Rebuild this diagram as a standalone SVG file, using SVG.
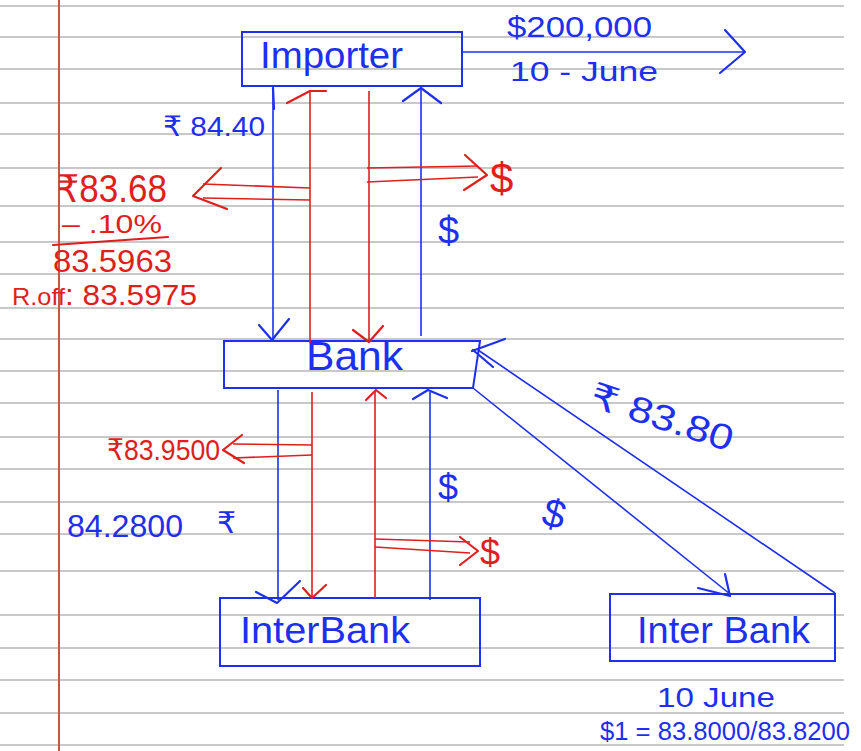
<svg xmlns="http://www.w3.org/2000/svg" width="861" height="751" viewBox="0 0 861 751">
<style>
.rule{stroke:#c8c8c8;stroke-width:2}
.margin{stroke:#c0584a;stroke-width:2}
.box{fill:none;stroke:#1e2ff0;stroke-width:2}
.b{stroke:#1e2ff0;fill:none;stroke-width:1.6}
.r{stroke:#e01e1e;fill:none;stroke-width:1.6}
.bh{stroke:#1e2ff0;fill:none;stroke-width:2.2;stroke-linecap:round;stroke-linejoin:round}
.rh{stroke:#e01e1e;fill:none;stroke-width:2.2;stroke-linecap:round;stroke-linejoin:round}
.tb{fill:#1e2ff0;font-family:"Liberation Sans","DejaVu Sans",sans-serif}
.tr{fill:#e01e1e;font-family:"Liberation Sans","DejaVu Sans",sans-serif}
</style>
<rect width="861" height="751" fill="#ffffff"/>
<g id="paper">
<line class="rule" x1="0" y1="6" x2="844" y2="6"/>
<line class="rule" x1="0" y1="37" x2="844" y2="37"/>
<line class="rule" x1="0" y1="69" x2="844" y2="69"/>
<line class="rule" x1="0" y1="103" x2="844" y2="103"/>
<line class="rule" x1="0" y1="134" x2="844" y2="134"/>
<line class="rule" x1="0" y1="168" x2="844" y2="168"/>
<line class="rule" x1="0" y1="206" x2="844" y2="206"/>
<line class="rule" x1="0" y1="242" x2="844" y2="242"/>
<line class="rule" x1="0" y1="274" x2="844" y2="274"/>
<line class="rule" x1="0" y1="308" x2="844" y2="308"/>
<line class="rule" x1="0" y1="339" x2="844" y2="339"/>
<line class="rule" x1="0" y1="371" x2="844" y2="371"/>
<line class="rule" x1="0" y1="403" x2="844" y2="403"/>
<line class="rule" x1="0" y1="437" x2="844" y2="437"/>
<line class="rule" x1="0" y1="469" x2="844" y2="469"/>
<line class="rule" x1="0" y1="502" x2="844" y2="502"/>
<line class="rule" x1="0" y1="534" x2="844" y2="534"/>
<line class="rule" x1="0" y1="571" x2="844" y2="571"/>
<line class="rule" x1="0" y1="615" x2="844" y2="615"/>
<line class="rule" x1="0" y1="648" x2="844" y2="648"/>
<line class="rule" x1="0" y1="680" x2="844" y2="680"/>
<line class="rule" x1="0" y1="713" x2="844" y2="713"/>
<line class="rule" x1="0" y1="745" x2="844" y2="745"/>
<line class="margin" x1="59" y1="0" x2="59" y2="751"/>
</g>

<g id="importer">
<rect class="box" x="242" y="32" width="220" height="54"/>
<text class="tb" x="260" y="68" font-size="37" textLength="143" lengthAdjust="spacingAndGlyphs">Importer</text>
</g>

<g id="bank">
<polygon class="box" points="224,341 480,341 473,388 224,388"/>
<text class="tb" x="306" y="370" font-size="40" textLength="97" lengthAdjust="spacingAndGlyphs">Bank</text>
</g>

<g id="interbank-left">
<rect class="box" x="220" y="598" width="260" height="68"/>
<text class="tb" x="240" y="643" font-size="36" textLength="170" lengthAdjust="spacingAndGlyphs">InterBank</text>
</g>

<g id="interbank-right">
<rect class="box" x="610" y="594" width="225" height="67" fill="#e3e5fa"/>
<text class="tb" x="637" y="643" font-size="36" textLength="173" lengthAdjust="spacingAndGlyphs">Inter Bank</text>
</g>

<g id="connectors">
<line class="b" x1="462" y1="52" x2="745" y2="52"/>
<polyline class="bh" points="725,30 745,52 720,73"/>
<line class="b" x1="273" y1="87" x2="273" y2="340"/>
<line class="bh" x1="273" y1="88" x2="274" y2="109" stroke-width="3.5"/>
<polyline class="bh" points="259,325 272,340 289,319"/>
<line class="r" x1="310" y1="91" x2="310" y2="343"/>
<polyline class="rh" points="287,103 310,91 326,91"/>
<line class="r" x1="369" y1="91" x2="369" y2="342"/>
<polyline class="rh" points="353,330 369,342 383,326"/>
<line class="b" x1="421" y1="88" x2="421" y2="336"/>
<polyline class="bh" points="403,101 421,88 441,103"/>
<line class="r" x1="310" y1="188" x2="203" y2="184"/>
<line class="r" x1="310" y1="200" x2="203" y2="198"/>
<polyline class="rh" points="221,168 193,196 227,209"/>
<line class="r" x1="367" y1="168" x2="478" y2="166"/>
<line class="r" x1="367" y1="182" x2="478" y2="177"/>
<polyline class="rh" points="465,155 487,175 464,190"/>
<line class="b" x1="278" y1="390" x2="278" y2="600"/>
<polyline class="bh" points="256,592 277,603 300,581"/>
<line class="r" x1="312" y1="392" x2="312" y2="598"/>
<polyline class="rh" points="303,588 312,598 326,585"/>
<line class="r" x1="375" y1="598" x2="375" y2="392"/>
<polyline class="rh" points="366,400 376,390 386,398"/>
<line class="b" x1="430" y1="600" x2="430" y2="392"/>
<polyline class="bh" points="413,399 428,390 447,398"/>
<line class="r" x1="312" y1="445" x2="233" y2="444"/>
<line class="r" x1="312" y1="455" x2="233" y2="458"/>
<polyline class="rh" points="242,435 223,450 244,463"/>
<line class="r" x1="375" y1="539" x2="470" y2="542"/>
<line class="r" x1="375" y1="547" x2="470" y2="553"/>
<polyline class="rh" points="460,537 478,551 460,565"/>
<line class="b" x1="835" y1="593" x2="478" y2="350"/>
<polyline class="bh" points="505,339 472,351"/>
<polyline class="bh" points="473,350 493,367"/>
<line class="b" x1="473" y1="388" x2="730" y2="594"/>
<polyline class="bh" points="698,588 730,596 725,574"/>
</g>

<g id="labels">
<text class="tb" x="507" y="37" font-size="30" textLength="145" lengthAdjust="spacingAndGlyphs">$200,000</text>
<text class="tb" x="510" y="81" font-size="28" textLength="148" lengthAdjust="spacingAndGlyphs">10 - June</text>
<text class="tb" x="163" y="136" font-size="28" textLength="102" lengthAdjust="spacingAndGlyphs">₹ 84.40</text>
<text class="tr" x="57" y="202" font-size="38" textLength="110" lengthAdjust="spacingAndGlyphs">₹83.68</text>
<text class="tr" x="62" y="233" font-size="26" textLength="100" lengthAdjust="spacingAndGlyphs">– .10%</text>
<line class="rh" x1="53" y1="245" x2="168" y2="237"/>
<text class="tr" x="53" y="272" font-size="32" textLength="119" lengthAdjust="spacingAndGlyphs">83.5963</text>
<text class="tr" x="12" y="305" font-size="30" textLength="185" lengthAdjust="spacingAndGlyphs"><tspan font-size="24">R.off</tspan>: 83.5975</text>
<text class="tr" x="490" y="193" font-size="42">$</text>
<text class="tb" x="438" y="244" font-size="38">$</text>
<text class="tr" x="107" y="460" font-size="30" textLength="113" lengthAdjust="spacingAndGlyphs">₹83.9500</text>
<text class="tb" x="438" y="500" font-size="36">$</text>
<text class="tb" x="67" y="537" font-size="32" textLength="116" lengthAdjust="spacingAndGlyphs">84.2800</text>
<text class="tb" x="217" y="533" font-size="30">₹</text>
<text class="tr" x="480" y="565" font-size="36">$</text>
<text class="tb" x="0" y="0" font-size="40" transform="translate(540,524) rotate(15)">$</text>
<text class="tb" x="0" y="0" font-size="36" textLength="148" lengthAdjust="spacingAndGlyphs" transform="translate(588,406) rotate(18)">₹ 83.80</text>
<text class="tb" x="657" y="707" font-size="28" textLength="118" lengthAdjust="spacingAndGlyphs">10 June</text>
<text class="tb" x="600" y="740" font-size="26" textLength="250" lengthAdjust="spacingAndGlyphs">$1 = 83.8000/83.8200</text>
</g>
</svg>
